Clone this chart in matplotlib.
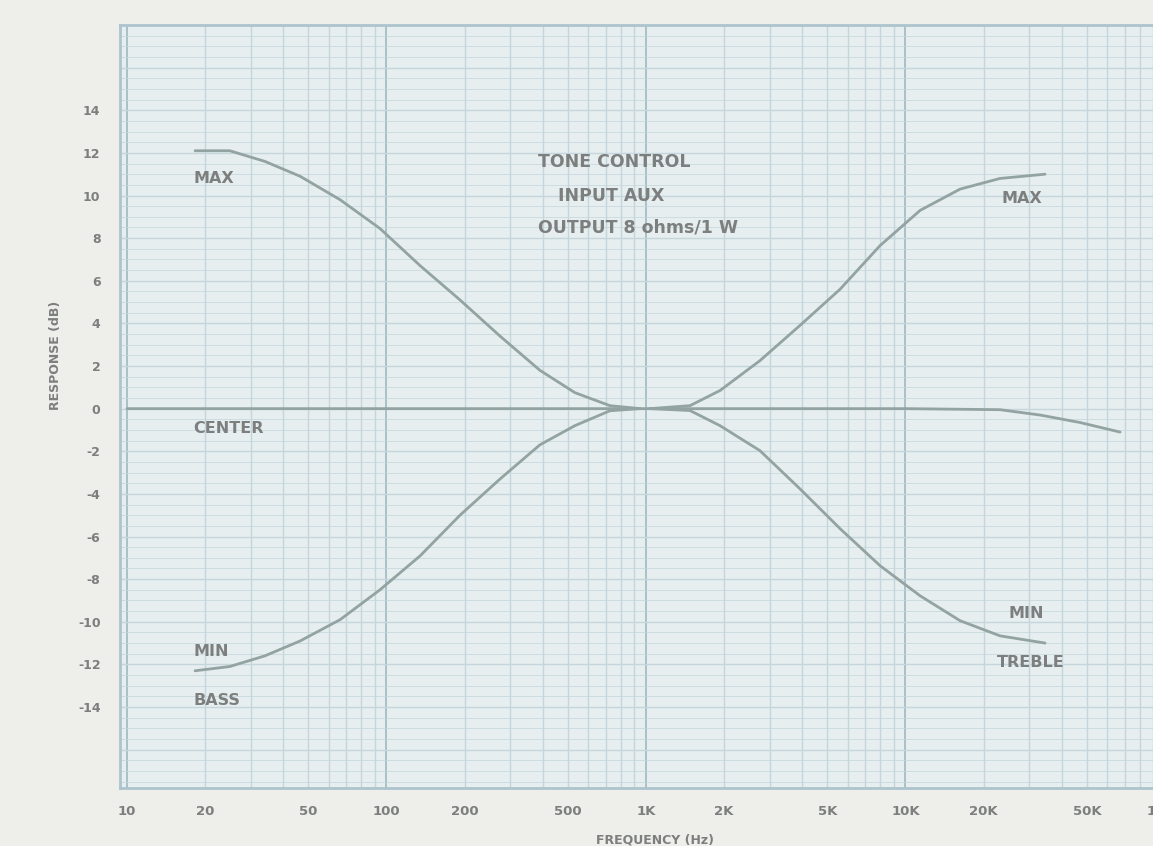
import matplotlib
matplotlib.use("Agg")
import matplotlib.pyplot as plt
import numpy as np
from matplotlib.ticker import FixedLocator, NullFormatter

# ---- data ----
bass_f = [18.3, 24.9, 34.0, 46.5, 66.3, 94.4, 135, 192, 274, 390, 532, 726, 948]
bass_max_db = [12.1, 12.1, 11.6, 10.9, 9.8, 8.45, 6.7, 5.1, 3.4, 1.8, 0.75, 0.14, 0.0]
bass_min_db = [-12.3, -12.1, -11.6, -10.9, -9.9, -8.5, -6.9, -5.0, -3.3, -1.7, -0.8, -0.1, 0.0]

treble_f = [1036, 1478, 1929, 2748, 3918, 5594, 7980, 11380, 16230, 23120, 34500]
treble_max_db = [0.0, 0.14, 0.85, 2.25, 3.9, 5.6, 7.65, 9.3, 10.3, 10.8, 11.0]
treble_min_db = [0.0, -0.09, -0.8, -1.97, -3.76, -5.63, -7.37, -8.78, -9.95, -10.66, -11.0]

center_f = [10, 100, 1000, 10000, 23120, 33000, 47000, 67100]
center_db = [0.0, 0.0, 0.0, 0.0, -0.05, -0.3, -0.65, -1.1]

x_ticks = [10, 20, 50, 100, 200, 500, 1000, 2000, 5000, 10000, 20000, 50000, 100000]
x_tick_labels = ["10", "20", "50", "100", "200", "500", "1K", "2K", "5K", "10K", "20K", "50K", "100K"]
y_ticks = [14, 12, 10, 8, 6, 4, 2, 0, -2, -4, -6, -8, -10, -12, -14]

# ---- style ----
paper = "#eeeeeb"
plot_bg = "#e6eeef"
grid_c = "#c4d6dc"
grid_major = "#a9c0c8"
curve_c = "#93a3a1"
text_c = "#7c7f7d"

fig = plt.figure(figsize=(11.53, 8.46), dpi=100, facecolor=paper)
ax = fig.add_axes([120/1153, 1-788/846, (1165-120)/1153, (788-25)/846])
ax.set_facecolor(plot_bg)
ax.set_xscale("log")
ax.set_xlim(9.4, 100000)
ax.set_ylim(-17.8, 18.0)

minor_x = [m * 10**d for d in range(0, 6) for m in range(2, 10)]
ax.xaxis.set_minor_locator(FixedLocator(minor_x))
ax.xaxis.set_minor_formatter(NullFormatter())
ax.set_xticks(x_ticks)
ax.set_xticklabels(x_tick_labels)
ax.set_yticks(y_ticks)
ax.set_yticklabels([str(v) for v in y_ticks])

ax.grid(False)
for v in minor_x:
    if 9.4 < v < 100000:
        ax.axvline(v, color=grid_c, lw=1.0, zorder=1)
for d in [10, 100, 1000, 10000]:
    ax.axvline(d, color=grid_major, lw=1.4, zorder=1)
for v in np.arange(-17.5, 18.01, 0.5):
    ax.axhline(v, color=grid_c, lw=0.7, alpha=0.75, zorder=1)
for v in np.arange(-16, 17, 2):
    ax.axhline(v, color=grid_c, lw=1.0, zorder=1)

ax.tick_params(axis="both", which="both", length=0, colors=text_c)
ax.tick_params(axis="x", labelsize=9.5, pad=12)
ax.tick_params(axis="y", labelsize=9, pad=14)
for lbl in ax.get_xticklabels() + ax.get_yticklabels():
    lbl.set_fontweight("bold")
for s in ax.spines.values():
    s.set_color("#adc4cd")
    s.set_linewidth(2)

lw = 2.0
for f, d in [(center_f, center_db), (bass_f, bass_max_db), (bass_f, bass_min_db),
             (treble_f, treble_max_db), (treble_f, treble_min_db)]:
    ax.plot(f, d, color=curve_c, lw=lw, zorder=3, solid_joinstyle="round",
            solid_capstyle="round")

kw = dict(color=text_c, fontsize=11.5, fontweight="bold", zorder=4, va="center")
ax.text(18, 10.8, "MAX", **kw)
ax.text(18, -0.95, "CENTER", **kw)
ax.text(18, -11.4, "MIN", **kw)
ax.text(18, -13.7, "BASS", **kw)
ax.text(23500, 9.85, "MAX", **kw)
ax.text(25000, -9.6, "MIN", **kw)
ax.text(22500, -11.9, "TREBLE", **kw)

tkw = dict(color=text_c, fontsize=12.5, fontweight="bold", zorder=4, va="center", ha="left")
ax.text(384, 11.55, "TONE CONTROL", **tkw)
ax.text(458, 10.0, "INPUT AUX", **tkw)
ax.text(384, 8.5, "OUTPUT 8 ohms/1 W", **tkw)

fig.text(55/1153, 1-355/846, "RESPONSE (dB)", rotation=90, ha="center", va="center",
         color=text_c, fontsize=9, fontweight="bold")
fig.text(655/1153, 1-840/846, "FREQUENCY (Hz)", ha="center", va="center",
         color=text_c, fontsize=9, fontweight="bold")

fig.savefig("out.png", dpi=100, facecolor=paper)
